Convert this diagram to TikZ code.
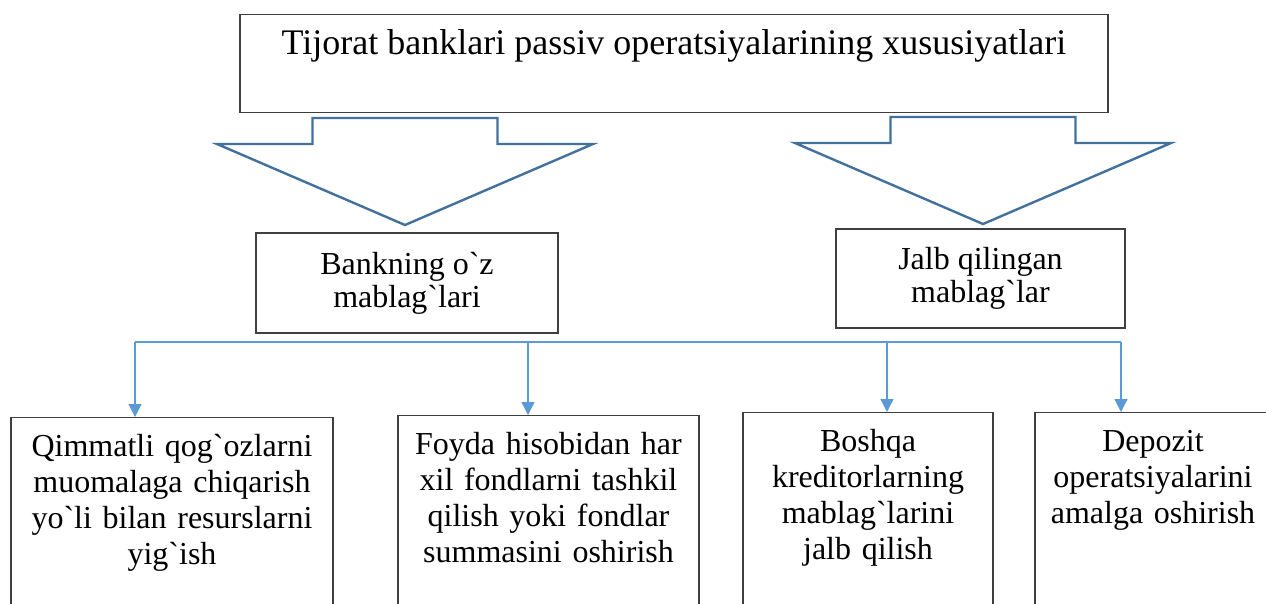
\documentclass[tikz,border=0pt]{standalone}
\usepackage{fontspec}
\setmainfont{Liberation Serif}[Ligatures=TeXOff]
\usetikzlibrary{arrows.meta}

\definecolor{boxgray}{HTML}{3F3F3F}
\definecolor{arrowblue}{HTML}{41719C}
\definecolor{linkblue}{HTML}{5B9BD5}

\tikzset{
    box/.style={draw=boxgray, line width=1.2pt, fill=white},
    midbox/.style={box, align=center, inner sep=2pt,
        font=\fontsize{32}{33}\selectfont},
    lowbox/.style={box, anchor=north, align=center, inner xsep=4pt,
        inner ysep=17pt, text height=22pt, text depth=150pt,
        font=\fontsize{32}{36}\selectfont},
    conn/.style={draw=linkblue, line width=1.3pt,
        -{Triangle[length=13pt,width=13pt]}},
    blockarrow/.pic={
        \draw[arrowblue, line width=2.4pt, fill=white]
            (0, 0) -- (-188, -81) -- (-92.5, -81) -- (-92.5, -107)
            -- (92.5, -107) -- (92.5, -81) -- (188, -81) -- cycle;
    }
}

\begin{document}
\begin{tikzpicture}[x=1pt, y=-1pt]
    \useasboundingbox (0, 0) rectangle (1266, 603);

    % title
    \node [box, anchor=north, minimum width=868pt, inner ysep=0pt,
        text height=40pt, text depth=58pt,
        font=\fontsize{36}{40}\selectfont] (title) at (674, 14)
        {Tijorat banklari passiv operatsiyalarining xususiyatlari};

    % the two big arrows
    \pic at (405, 225) {blockarrow};
    \pic at (983, 224) {blockarrow};

    % the two kinds of funds
    \node [midbox, minimum width=302pt, minimum height=100pt] (own)
        at (407, 283) {Bankning o`z\\mablag`lari};
    \node [midbox, minimum width=289pt, minimum height=99pt] (raised)
        at (980.5, 278.5) {Jalb qilingan\\mablag`lar};

    % lower boxes
    \node [lowbox, text width=314pt] (qimmat) at (172, 417)
        {Qimmatli qog`ozlarni\\muomalaga chiqarish\\yo`li bilan resurslarni\\yig`ish};
    \node [lowbox, text width=293pt] (foyda) at (548.5, 415)
        {Foyda hisobidan har\\xil fondlarni tashkil\\qilish yoki fondlar\\summasini oshirish};
    \node [lowbox, text width=242pt] (boshqa) at (868, 412)
        {Boshqa\\kreditorlarning\\mablag`larini\\jalb qilish};
    \node [lowbox, text width=228pt] (depozit) at (1153, 412)
        {Depozit\\operatsiyalarini\\amalga oshirish};

    % bus and arrows down
    \coordinate (b1) at (135, 342);
    \coordinate (b2) at (528, 342);
    \coordinate (b3) at (887, 342);
    \coordinate (b4) at (1121, 342);
    \draw [linkblue, line width=1.3pt] (b1) -- (b4);
    \draw [conn] (b1) -- (b1 |- qimmat.north);
    \draw [conn] (b2) -- (b2 |- foyda.north);
    \draw [conn] (b3) -- (b3 |- boshqa.north);
    \draw [conn] (b4) -- (b4 |- depozit.north);
\end{tikzpicture}
\end{document}
